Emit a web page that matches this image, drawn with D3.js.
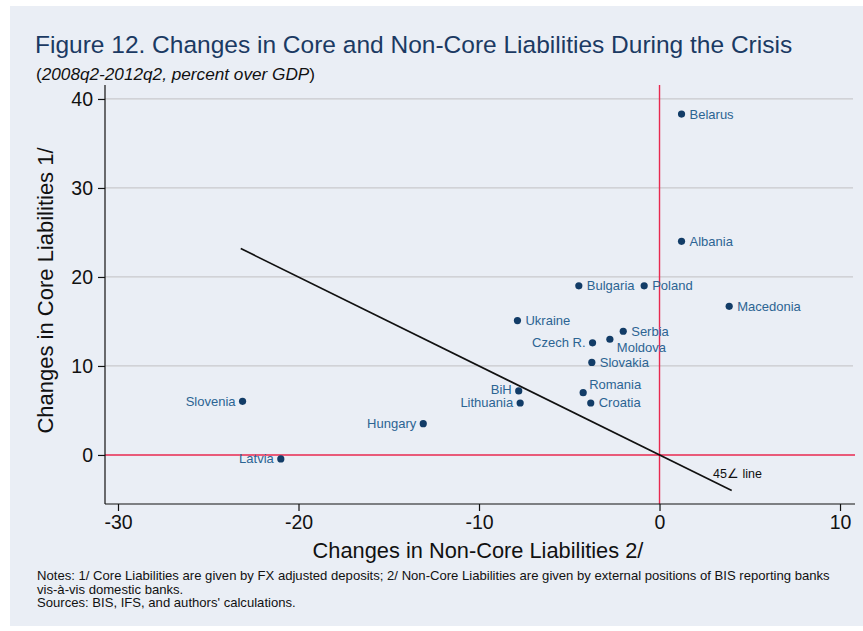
<!DOCTYPE html>
<html>
<head>
<meta charset="utf-8">
<script src="https://cdn.jsdelivr.net/npm/d3@7"></script>
<style>
  html, body { margin: 0; padding: 0; background: #ffffff; }
  svg { display: block; font-family: "Liberation Sans", Arial, sans-serif; }
</style>
</head>
<body>
<svg id="chart" width="863" height="631"></svg>
<script>
// Countries and their changes (percent of GDP), 2008q2-2012q2
const countries = ["Belarus", "Albania", "Bulgaria", "Poland", "Macedonia", "Ukraine",
  "Serbia", "Moldova", "Czech R.", "Slovakia", "Romania", "Croatia", "BiH",
  "Lithuania", "Slovenia", "Hungary", "Latvia"];
const nonCore = [1.22, 1.22, -4.47, -0.85, 3.86, -7.87, -2.01, -2.75, -3.71, -3.75,
  -4.23, -3.81, -7.80, -7.72, -23.1, -13.09, -20.98];
const core = [38.3, 24.0, 19.0, 19.0, 16.7, 15.1, 13.9, 13.0, 12.6, 10.4,
  7.0, 5.84, 7.19, 5.84, 6.03, 3.52, -0.45];

// Axis ticks
const xTicks = [-30, -20, -10, 0, 10];
const yTicks = [0, 10, 20, 30, 40];

// 45-degree reference line endpoints (x = -y)
const refLineX = [-23.2, 4];

// Marker label placement (clock-style): default is to the right
const labelSide = {
  "Czech R.": "left", "BiH": "upperLeft", "Lithuania": "left",
  "Slovenia": "left", "Hungary": "left", "Latvia": "left",
  "Moldova": "lowerRight", "Romania": "upperRight"
};

const svg = d3.select("#chart");

// Panel background
svg.append("rect").attr("x", 10).attr("y", 6).attr("width", 853).attr("height", 620)
  .attr("fill", "#eaeef5");

const plotL = 105, plotR = 855, plotT = 85, plotB = 504;
const x = d3.scaleLinear().domain([-30.72, 10.83]).range([plotL, plotR]);
const y = d3.scaleLinear().domain([-5.51, 41.57]).range([plotB, plotT]);

// Title and subtitle
svg.append("text").attr("x", 35).attr("y", 53)
  .attr("font-size", 24.5).attr("fill", "#1b3a63")
  .text("Figure 12. Changes in Core and Non-Core Liabilities During the Crisis");
const sub = svg.append("text").attr("x", 36).attr("y", 80).attr("font-size", 17.2).attr("fill", "#111");
sub.append("tspan").text("(");
sub.append("tspan").attr("font-style", "italic").text("2008q2-2012q2, percent over GDP");
sub.append("tspan").text(")");

// Horizontal gridlines
svg.append("g").selectAll("line").data(yTicks.filter(d => d !== 0)).join("line")
  .attr("x1", plotL).attr("x2", 853)
  .attr("y1", d => y(d)).attr("y2", d => y(d))
  .attr("stroke", "#c9c9cc").attr("stroke-width", 1.3);

// Zero reference lines
svg.append("line").attr("x1", plotL).attr("x2", plotR).attr("y1", y(0)).attr("y2", y(0))
  .attr("stroke", "#e8294f").attr("stroke-width", 1.4);
svg.append("line").attr("x1", x(0)).attr("x2", x(0)).attr("y1", plotT).attr("y2", plotB)
  .attr("stroke", "#e8294f").attr("stroke-width", 1.4);

// Axes
const yAxis = svg.append("g").attr("transform", `translate(${plotL},0)`)
  .call(d3.axisLeft(y).tickValues(yTicks).tickSize(7).tickPadding(5).tickFormat(d3.format("d")));
const xAxis = svg.append("g").attr("transform", `translate(0,${plotB})`)
  .call(d3.axisBottom(x).tickValues(xTicks).tickSize(7).tickPadding(4).tickFormat(d => d < 0 ? "-" + Math.abs(d) : d));
[yAxis, xAxis].forEach(g => {
  g.select(".domain").attr("stroke", "#111").attr("stroke-width", 1.2);
  g.selectAll(".tick line").attr("stroke", "#111").attr("stroke-width", 1.2);
  g.selectAll(".tick text").attr("font-size", 19.5).attr("fill", "#111")
    .attr("font-family", "Liberation Sans, Arial, sans-serif");
});
yAxis.select(".domain").attr("d", `M0,${plotT}V${plotB}`);
xAxis.select(".domain").attr("d", `M${plotL},0H${plotR}`);

// Axis titles
svg.append("text").attr("transform", `translate(53,${(plotT + plotB) / 2 - 4}) rotate(-90)`)
  .attr("text-anchor", "middle").attr("font-size", 22).attr("fill", "#111")
  .text("Changes in Core Liabilities 1/");
svg.append("text").attr("x", 478).attr("y", 558)
  .attr("text-anchor", "middle").attr("font-size", 21.8).attr("fill", "#111")
  .text("Changes in Non-Core Liabilities 2/");

// 45-degree line
svg.append("line")
  .attr("x1", x(refLineX[0])).attr("y1", y(-refLineX[0]))
  .attr("x2", x(refLineX[1])).attr("y2", y(-refLineX[1]))
  .attr("stroke", "#111").attr("stroke-width", 1.6);
svg.append("text").attr("x", 713).attr("y", 478).attr("font-size", 12.5).attr("fill", "#111")
  .text("45\u2220 line");

// Points
const pts = countries.map((c, i) => ({ name: c, x: nonCore[i], y: core[i] }));
svg.append("g").selectAll("circle").data(pts).join("circle")
  .attr("cx", d => x(d.x)).attr("cy", d => y(d.y)).attr("r", 3.6)
  .attr("fill", "#123c67");

// Marker labels
svg.append("g").selectAll("text").data(pts).join("text")
  .attr("font-size", 13).attr("fill", "#2c6493")
  .attr("text-anchor", d => (labelSide[d.name] || "").endsWith("eft") ? "end" : "start")
  .attr("x", d => {
    const s = labelSide[d.name];
    if (s === "left" || s === "upperLeft") return x(d.x) - 7;
    if (s === "lowerRight") return x(d.x) + 7;
    if (s === "upperRight") return x(d.x) + 6;
    return x(d.x) + 8;
  })
  .attr("y", d => {
    const s = labelSide[d.name];
    if (s === "lowerRight") return y(d.y) + 13;
    if (s === "upperRight") return y(d.y) - 4;
    if (s === "upperLeft") return y(d.y) + 3;
    return y(d.y) + 4.5;
  })
  .text(d => d.name);

// Notes
const notes = [
  "Notes: 1/ Core Liabilities are given by FX adjusted deposits; 2/ Non-Core Liabilities are given by external positions of BIS reporting banks",
  "vis-\u00e0-vis domestic banks.",
  "Sources: BIS, IFS, and authors' calculations."
];
svg.append("g").selectAll("text").data(notes).join("text")
  .attr("x", 37).attr("y", (d, i) => 580 + i * 13.5)
  .attr("font-size", 13.1).attr("fill", "#111")
  .text(d => d);
</script>
</body>
</html>
